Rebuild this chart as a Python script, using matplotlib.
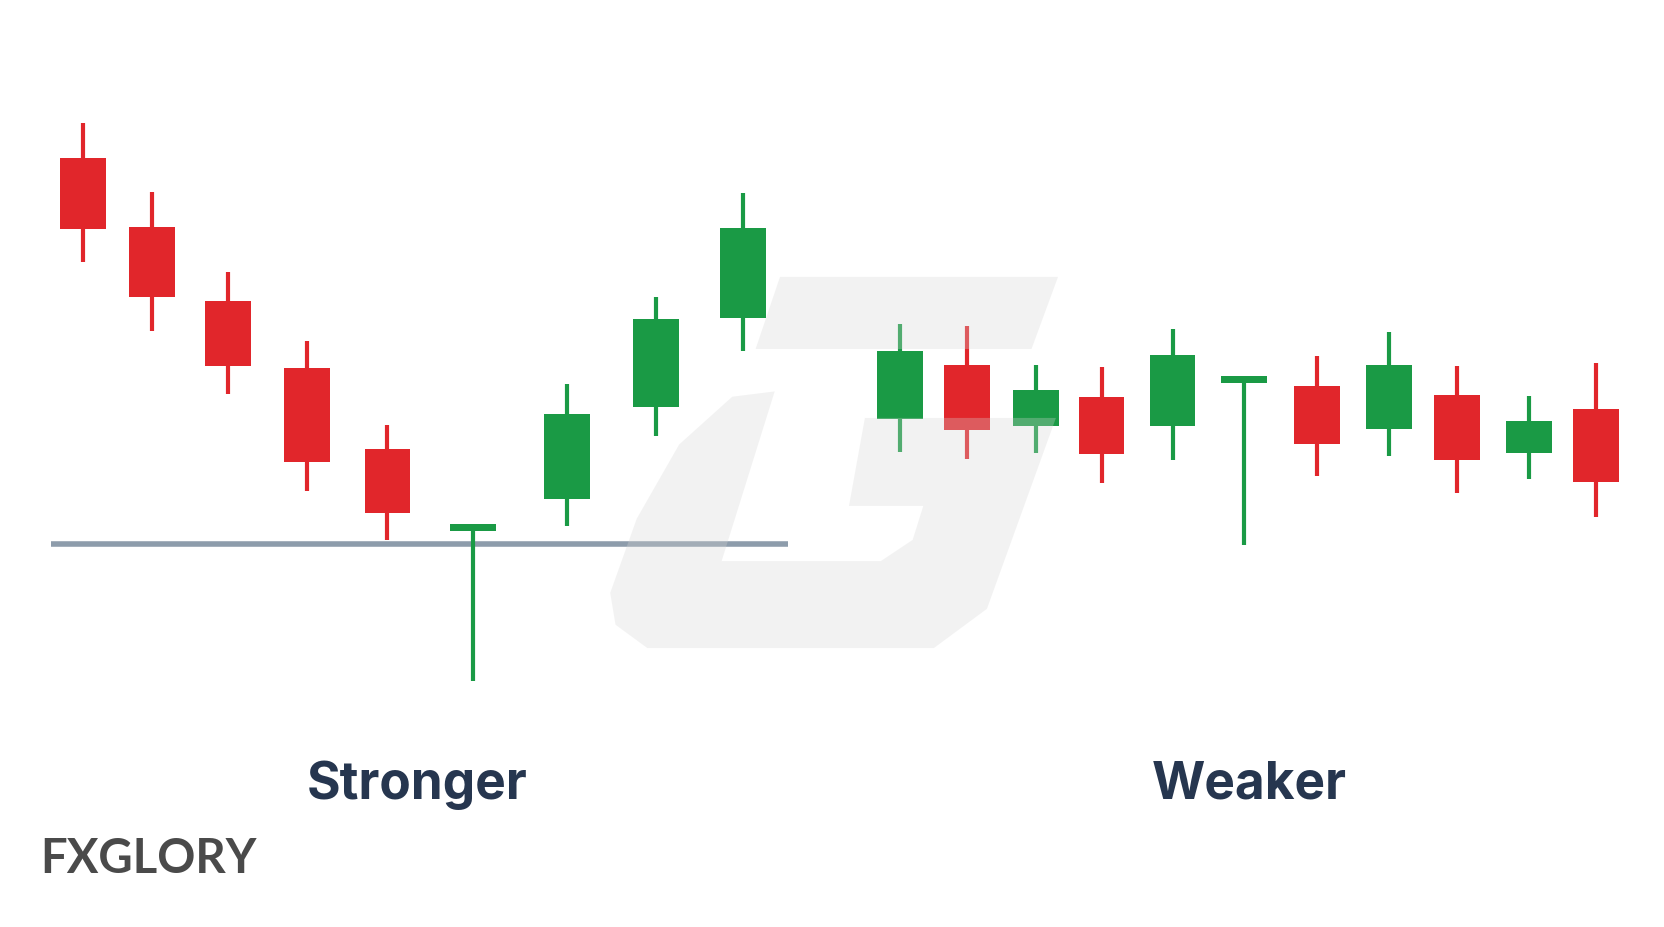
import matplotlib
matplotlib.use("Agg")
import matplotlib.pyplot as plt
from matplotlib.patches import Rectangle, Polygon

# candle data (positions in the picture's price scale; smaller = higher)
xs     = [78,143,215,289,365,446,534,618,700, 848,911,976,1038,1105,1172,1241,1309,1373,1441,1504]
opens  = [150,215,285,348,424,502,471,385,301, 396,345,403,375,403,362,365,405,373,428,387]
closes = [217,281,346,437,485,495,391,302,216, 332,406,369,429,336,355,420,345,435,398,455]
highs  = [117,182,257,322,402,495,363,281,183, 306,308,345,347,311,355,337,314,346,374,343]
lows   = [248,313,372,464,510,643,497,412,332, 427,434,428,456,435,515,450,431,466,453,488]
support_level = 514
labels = ["Stronger", "Weaker"]

RED, GREEN = "#e1262b", "#1a9a45"
fig = plt.figure(figsize=(16.64, 9.28), dpi=100)
ax = fig.add_axes([0, 0, 1, 1])
ax.set_xlim(0, 1568); ax.set_ylim(875, 0); ax.axis("off")

ax.plot([48, 743], [support_level]*2, color="#8d9cab", lw=4, zorder=1, solid_capstyle="butt")

for x, o, c, h, l in zip(xs, opens, closes, highs, lows):
    col = GREEN if c <= o else RED
    ax.plot([x, x], [h, l], color=col, lw=3, zorder=2, solid_capstyle="butt")
    top, bot = min(o, c), max(o, c)
    ax.add_patch(Rectangle((x-21.5, top), 43, bot-top, color=col, zorder=3, lw=0))

# watermark
wm = dict(closed=True, facecolor="#d6d6d6", edgecolor="none", alpha=0.3, zorder=4)
ax.add_patch(Polygon([(735,262),(997,262),(972,330),(712,330)], **wm))
ax.add_patch(Polygon([(730,370),(690,375),(640,420),(600,490),(575,560),(580,590),(610,612),
                      (880,612),(930,575),(995,395),(815,395),(800,478),(870,478),(860,510),
                      (830,530),(680,530)], **wm))

ax.text(393, 740, labels[0], fontsize=37, fontweight="bold", color="#26364f", ha="center", va="center", family="Inter")
ax.text(1177, 740, labels[1], fontsize=37, fontweight="bold", color="#26364f", ha="center", va="center", family="Inter")
ax.text(38, 810, "FXGLORY", fontsize=34, fontweight="bold", color="#4a4a4a", ha="left", va="center", family="Lato")

fig.savefig("out.png", dpi=100, facecolor="white")
